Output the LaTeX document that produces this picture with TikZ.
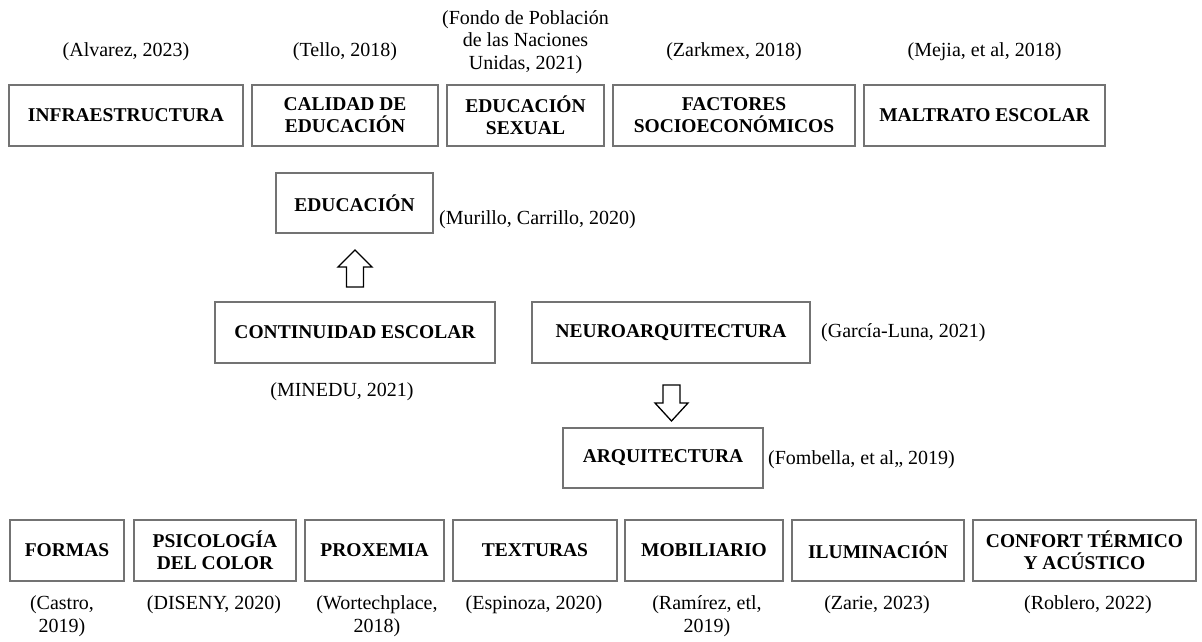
\documentclass[tikz,border=0pt]{standalone}
\usepackage{fontspec}
\setmainfont{Liberation Serif}
\begin{document}
\begin{tikzpicture}[x=1pt,y=-1pt,
  font=\fontsize{20}{22.5}\selectfont,
  box/.style={draw=black!55,line width=1.6pt,fill=white,inner sep=0pt,
    align=center,font=\fontsize{19.5}{22}\selectfont\bfseries},
  cite/.style={inner sep=0pt,align=center},
  blockarrow/.style={draw=black,line width=1.3pt,fill=white,line join=miter}]
\useasboundingbox (0,0) rectangle (1202,642);
% top row
\node[box,minimum width=234,minimum height=61] (infra) at (126,115.5) {INFRAESTRUCTURA};
\node[box,minimum width=186,minimum height=61] (calidad) at (345,115.5) {CALIDAD DE\\EDUCACIÓN};
\node[box,minimum width=157,minimum height=61] (sexual) at (525.5,115.5) {EDUCACIÓN\\SEXUAL};
\node[box,minimum width=242,minimum height=61] (factores) at (734,115.5) {FACTORES\\SOCIOECONÓMICOS};
\node[box,minimum width=241,minimum height=61] (maltrato) at (984.5,115.5) {MALTRATO ESCOLAR};
\node[cite] (c1) at (126,52) {(Alvarez, 2023)};
\node[cite] (c2) at (345,52) {(Tello, 2018)};
\node[cite] (c3) at (525.5,42) {(Fondo de Población\\de las Naciones\\Unidas, 2021)};
\node[cite] (c4) at (734,52) {(Zarkmex, 2018)};
\node[cite] (c5) at (984.5,52) {(Mejia, et al, 2018)};
% middle
\node[box,minimum width=157,minimum height=60] (educ) at (354.5,203) {EDUCACIÓN};
\node[cite,anchor=west] (c6) at (439,220) {(Murillo, Carrillo, 2020)};
\node[box,minimum width=280,minimum height=61] (cont) at (355,332.5) {CONTINUIDAD ESCOLAR};
\node[cite] (c7) at (342,392) {(MINEDU, 2021)};
\node[box,minimum width=278,minimum height=61] (neuro) at (671,332.5) {NEUROARQUITECTURA};
\node[cite,anchor=west] (c8) at (821,333) {(García-Luna, 2021)};
\node[box,minimum width=200,minimum height=60] (arq) at (663,458) {ARQUITECTURA};
\node[cite,anchor=west] (c9) at (768,460) {(Fombella, et al,, 2019)};
% block arrows
\coordinate (upA) at (355,287);
\draw[blockarrow] (upA) ++(-8.5,0) -- ++(0,-20) -- ++(-8.5,0) -- ++(17,-17) -- ++(17,17) -- ++(-8.5,0) -- ++(0,20) -- cycle;
\coordinate (dnA) at (671.5,385);
\draw[blockarrow] (dnA) ++(-8.5,0) -- ++(0,18) -- ++(-8,0) -- ++(16.5,18) -- ++(16.5,-18) -- ++(-8,0) -- ++(0,-18) -- cycle;
% bottom row
\node[box,minimum width=114,minimum height=61] (formas) at (67,550.5) {FORMAS};
\node[box,minimum width=162,minimum height=61] (psico) at (215,550.5) {PSICOLOGÍA\\DEL COLOR};
\node[box,minimum width=139,minimum height=61] (prox) at (374.5,550.5) {PROXEMIA};
\node[box,minimum width=164,minimum height=61] (textur) at (535,550.5) {TEXTURAS};
\node[box,minimum width=158,minimum height=61] (mob) at (704,550.5) {MOBILIARIO};
\node[box,minimum width=172,minimum height=61] (ilum) at (878,550.5) {ILUMINACIÓN};
\node[box,minimum width=223,minimum height=61] (confort) at (1084.5,550.5) {CONFORT TÉRMICO\\Y ACÚSTICO};
\node[cite] (d1) at (62,616) {(Castro,\\2019)};
\node[cite] (d2) at (214,605) {(DISENY, 2020)};
\node[cite] (d3) at (377,616) {(Wortechplace,\\2018)};
\node[cite] (d4) at (534,605) {(Espinoza, 2020)};
\node[cite] (d5) at (707,616) {(Ramírez, etl,\\2019)};
\node[cite] (d6) at (877,605) {(Zarie, 2023)};
\node[cite] (d7) at (1088,605) {(Roblero, 2022)};
\end{tikzpicture}
\end{document}
